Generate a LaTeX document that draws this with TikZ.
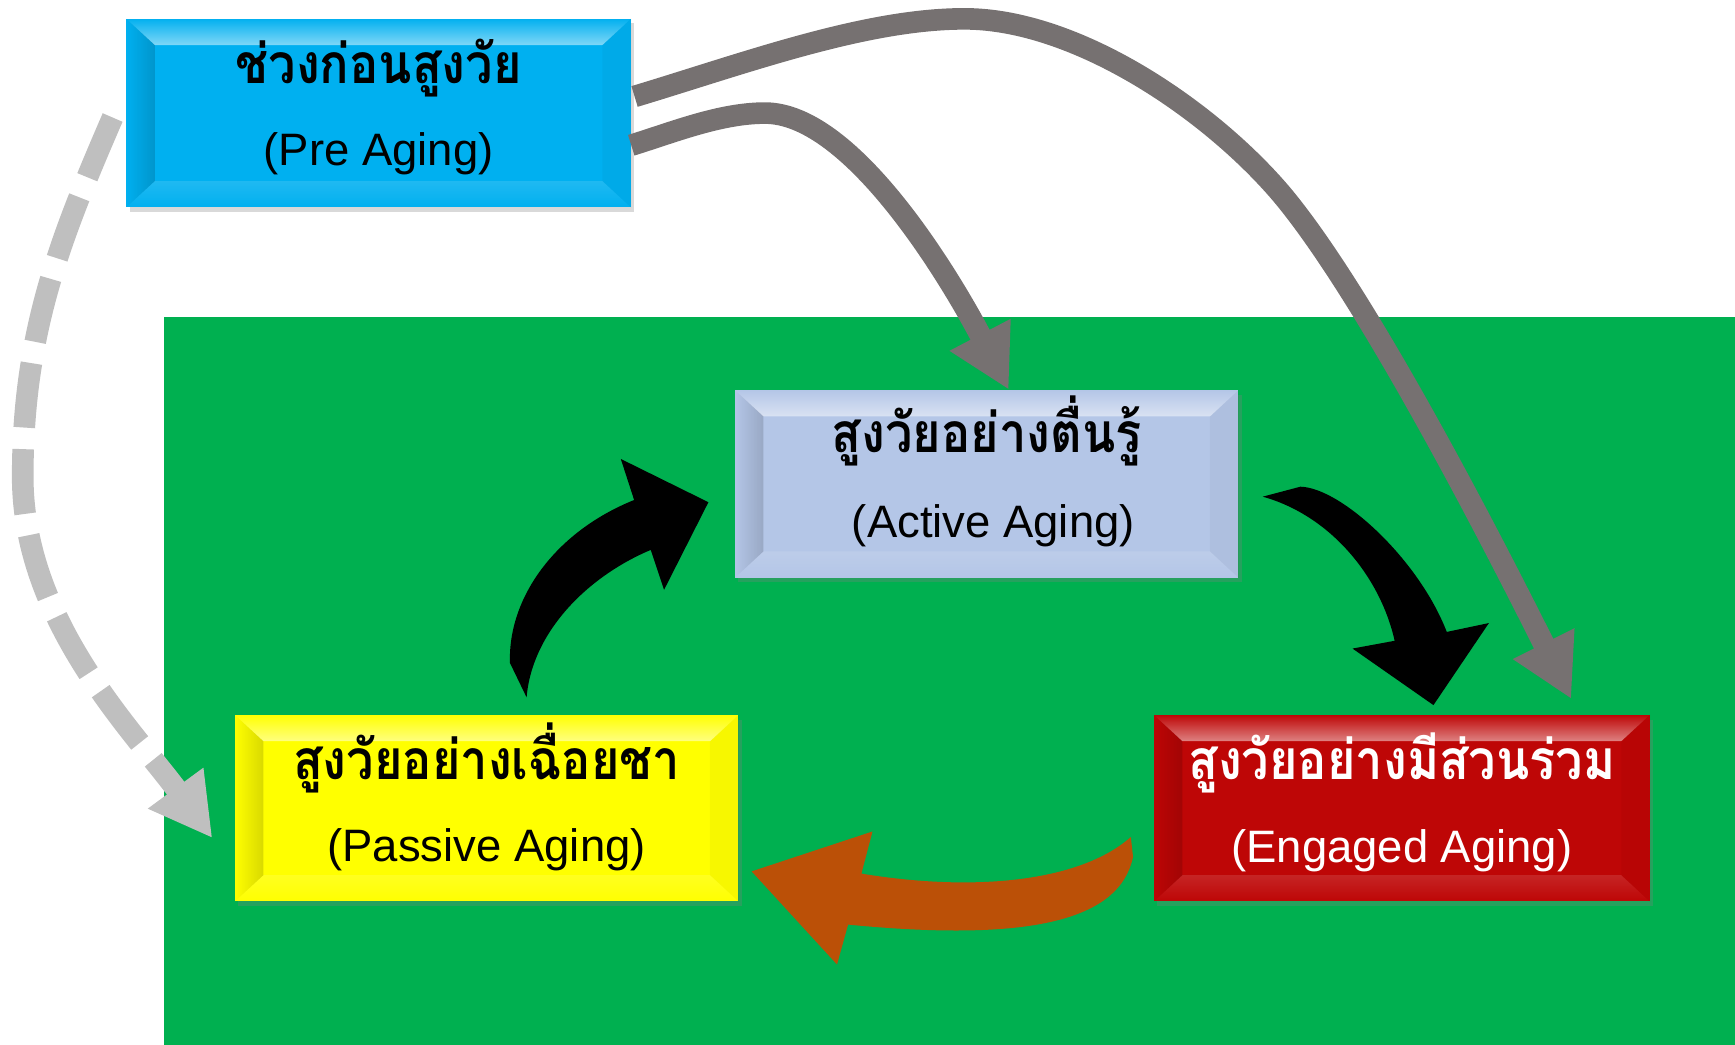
\documentclass[tikz,border=0pt]{standalone}
\usepackage{fontspec}
\usepackage{graphicx}
\setmainfont{Liberation Sans}
\newfontfamily\thaifont[Script=Thai]{Loma}
\usetikzlibrary{calc,arrows.meta,fadings,shadows}
\definecolor{bggreen}{HTML}{00B050}
\definecolor{precol}{HTML}{00B0F0}
\definecolor{actcol}{HTML}{B4C6E7}
\definecolor{pascol}{HTML}{FFFF00}
\definecolor{engcol}{RGB}{190,6,6}
\definecolor{arrgray}{RGB}{118,113,113}
\definecolor{dashgray}{RGB}{191,191,191}
\definecolor{orangebr}{RGB}{187,80,7}
\newcommand\thaiscaled[1]{\scalebox{1}[1.13]{#1}}
\tikzset{
  box/.style={rectangle, inner sep=0pt, draw=none,
    drop shadow={shadow xshift=1.5pt, shadow yshift=-2pt, opacity=.3}},
  latintxt/.style={font=\fontsize{20.5}{24}\selectfont, inner sep=0pt, anchor=base},
  thaitxt/.style={font=\thaifont\bfseries\fontsize{22}{24}\selectfont, inner sep=0pt, anchor=base},
  conn/.style={draw=arrgray, line width=9.75pt, -{Triangle[length=28pt,width=29pt]}},
  dashconn/.style={draw=dashgray, line width=9.75pt, dash pattern=on 29.25pt off 9.75pt,
    -{Triangle[length=28pt,width=29pt]}},
}
\newcommand\bevelbox[1]{%
  \fill[white, fill opacity=.5, path fading=north] (#1.north west) -- (#1.north east)
    -- ($(#1.north east)+(-26,24)$) -- ($(#1.north west)+(26,24)$) -- cycle;
  \fill[black, fill opacity=.15, path fading=west] (#1.north west) -- ($(#1.north west)+(26,24)$)
    -- ($(#1.south west)+(26,-24)$) -- (#1.south west) -- cycle;
  \fill[black, fill opacity=.03] (#1.north east) -- ($(#1.north east)+(-26,24)$)
    -- ($(#1.south east)+(-26,-24)$) -- (#1.south east) -- cycle;
  \fill[white, fill opacity=.12, path fading=south] (#1.south west) -- ($(#1.south west)+(26,-24)$)
    -- ($(#1.south east)+(-26,-24)$) -- (#1.south east) -- cycle;
}
\begin{document}
\begin{tikzpicture}[x=0.5pt,y=-0.5pt]
\useasboundingbox (0,0) rectangle (1565,942.6);
\fill[bggreen] (148,286) rectangle (1565,942.6);

% boxes
\node[box, fill=precol, minimum width=227.5pt, minimum height=85pt] (pre) at (341.5,102) {};
\bevelbox{pre}
\node[box, fill=actcol, minimum width=227pt, minimum height=84.5pt] (act) at (890,436.5) {};
\bevelbox{act}
\node[box, fill=pascol, minimum width=227pt, minimum height=84pt] (pas) at (439,729) {};
\bevelbox{pas}
\node[box, fill=engcol, minimum width=223.5pt, minimum height=84pt] (eng) at (1264.5,729) {};
\bevelbox{eng}

% texts
\node[thaitxt] (preT) at ($(pre.center)+(0,-27)$) {\thaiscaled{ช่วงก่อนสูงวัย}};
\node[latintxt] (preL) at ($(pre.center)+(0,47)$) {(Pre Aging)};
\node[thaitxt] (actT) at ($(act.center)+(0,-28)$) {\thaiscaled{สูงวัยอย่างตื่นรู้}};
\node[latintxt] (actL) at ($(act.center)+(6,48)$) {(Active Aging)};
\node[thaitxt] (pasT) at ($(pas.center)+(0,-26)$) {\thaiscaled{สูงวัยอย่างเฉื่อยชา}};
\node[latintxt] (pasL) at ($(pas.center)+(0,48)$) {(Passive Aging)};
\node[thaitxt, text=white] (engT) at ($(eng.center)+(0,-26)$) {\thaiscaled{สูงวัยอย่างมีส่วนร่วม}};
\node[latintxt, text=white] (engL) at ($(eng.center)+(0,49)$) {(Engaged Aging)};

% gray connectors from Pre Aging
\coordinate (s1) at ($(pre.east)+(0,29)$);
\coordinate (e1) at ($(act.north)+(20,0)$);
\draw[conn] (s1) .. controls (608,119) and (650,102) .. (690,102)
  .. controls (770,102) and (860,256) .. (e1);
\coordinate (s2) at ($(pre.east)+(3,-15)$);
\coordinate (e2) at ($(eng.north east)+(-71,-14)$);
\draw[conn] (s2) .. controls (672,57) and (780,17) .. (870,17)
  .. controls (970,17) and (1090,98) .. (1155,174)
  .. controls (1232.6,265.6) and (1350.4,496.6) .. (e2);

% dashed connector
\coordinate (s3) at ($(pre.west)+(-12,4)$);
\coordinate (e3) at ($(pas.west)+(-20,27)$);
\draw[dashconn] (s3) .. controls (54,216) and (20.5,300) .. (20.5,430)
  .. controls (20.5,560) and (120.6,659.6) .. (e3);

% block arrows of the cycle
\fill[black] (475,629) -- (460,598) .. controls (458,540) and (500,480) .. (572,451)
  -- (560,414) -- (639,453) -- (599,532) -- (587,496)
  .. controls (530,520) and (480,570) .. (475,629) -- cycle;
\fill[black] (1139,448) -- (1173,439) .. controls (1210,440) and (1280,505) .. (1305,570)
  -- (1343,562) -- (1293,636) -- (1220,585) -- (1258,578)
  .. controls (1245,520) and (1200,465) .. (1139,448) -- cycle;
\fill[orangebr] (678,786) -- (787,750) -- (777,788)
  .. controls (880,805) and (975,795) .. (1020,755) -- (1022,773)
  .. controls (1010,830) and (930,850) .. (765,834) -- (755,870) -- cycle;
\end{tikzpicture}
\end{document}
